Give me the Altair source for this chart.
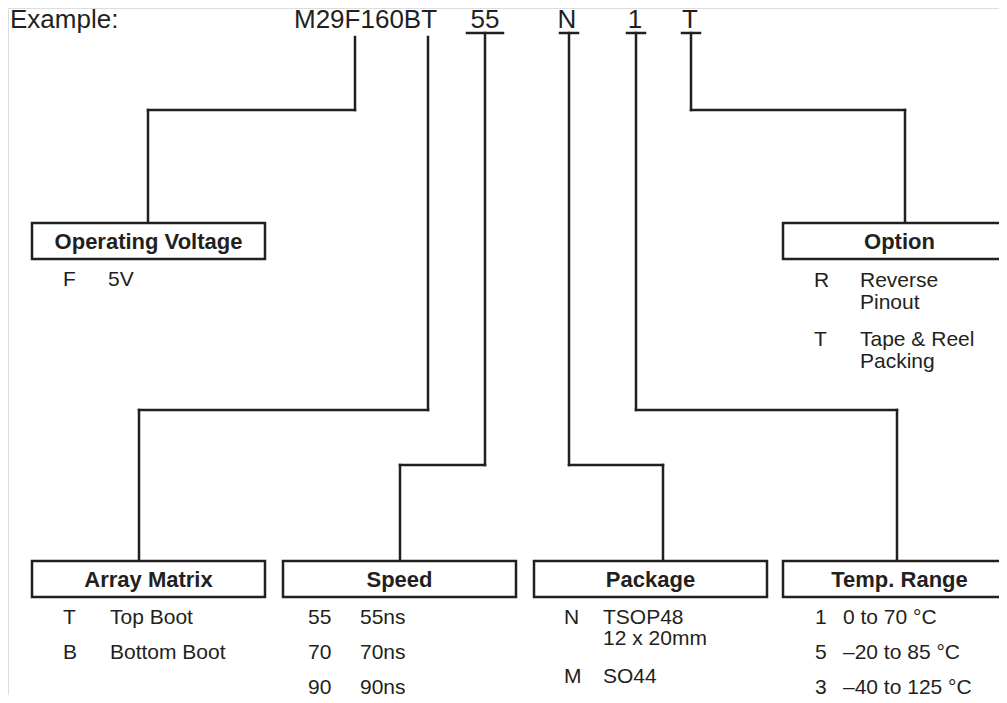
import altair as alt
import pandas as pd

# ---------------- content ----------------
header_label = "Example:"
part_codes = ["M29F160BT", "55", "N", "1", "T"]

titles = ["Operating Voltage", "Option", "Array Matrix", "Speed", "Package", "Temp. Range"]

voltage_codes = ["F"]
voltage_desc = [["5V"]]
option_codes = ["R", "T"]
option_desc = [["Reverse", "Pinout"], ["Tape & Reel", "Packing"]]
matrix_codes = ["T", "B"]
matrix_desc = [["Top Boot"], ["Bottom Boot"]]
speed_codes = ["55", "70", "90"]
speed_desc = [["55ns"], ["70ns"], ["90ns"]]
package_codes = ["N", "M"]
package_desc = [["TSOP48", "12 x 20mm"], ["SO44"]]
temp_codes = ["1", "5", "3"]
temp_desc = [["0 to 70 °C"], ["–20 to 85 °C"], ["–40 to 125 °C"]]

# ---------------- layout (page pixel coordinates) ----------------
INK = "#231f20"
FONT = "Liberation Sans"
LW = 2.5

header_x = [294, 485, 567, 635, 690]
header_align = ["left", "center", "center", "center", "center"]
header_y = 28

box_left = [32, 783, 32, 283, 534, 783]
box_top = [223, 223, 561, 561, 561, 561]
box_w, box_h = 233, 36

sections = [
    # codes, descriptions, code_x, desc_x, row baselines, wrap gap
    (voltage_codes, voltage_desc, 63, 108, [286], 22),
    (option_codes, option_desc, 814, 860, [287, 346], 22),
    (matrix_codes, matrix_desc, 63, 110, [624, 659], 21),
    (speed_codes, speed_desc, 308, 360, [624, 659, 694], 21),
    (package_codes, package_desc, 564, 603, [624, 683], 21),
    (temp_codes, temp_desc, 815, 843, [624, 659, 694], 21),
]

stem_x = [355, 428, 485, 569, 636, 691]
stem_top = [37, 37, 33, 33, 33, 33]
elbow_y = [110, 410, 465, 465, 410, 110]
drop_x = [148, 139, 400, 663, 897, 905]
drop_end = [223, 561, 561, 561, 561, 223]
ticks = [(467, 503), (560, 578), (627, 645), (682, 700)]
tick_y = 33

# ---------------- tables ----------------
hdr = pd.DataFrame(
    [{"x": 10, "y": header_y, "t": header_label, "a": "left"}]
    + [{"x": x, "y": header_y, "t": t, "a": a} for t, x, a in zip(part_codes, header_x, header_align)]
)

boxes = pd.DataFrame({
    "x": box_left, "x2": [b + box_w for b in box_left],
    "y": box_top, "y2": [t + box_h for t in box_top],
})
title_df = pd.DataFrame({
    "x": [b + box_w / 2 for b in box_left],
    "y": [t + 26 for t in box_top],
    "t": titles,
})

items = []
for codes, descs, cx, dx, rows, gap in sections:
    for code, desc, ry in zip(codes, descs, rows):
        items.append({"x": cx, "y": ry, "t": code})
        for k, line in enumerate(desc):
            items.append({"x": dx, "y": ry + k * gap, "t": line})
items_df = pd.DataFrame(items)

segs = []
for sx, st, ey, dxp, de in zip(stem_x, stem_top, elbow_y, drop_x, drop_end):
    segs.append({"x": sx, "x2": sx, "y": st, "y2": ey})
    segs.append({"x": min(sx, dxp), "x2": max(sx, dxp), "y": ey, "y2": ey})
    segs.append({"x": dxp, "x2": dxp, "y": ey, "y2": de})
for a, b in ticks:
    segs.append({"x": a, "x2": b, "y": tick_y, "y2": tick_y})
segs_df = pd.DataFrame(segs)

# ---------------- chart ----------------
W, H = 991, 687
xs = alt.Scale(domain=[8, 8 + W], nice=False, zero=False)
ys = alt.Scale(domain=[8, 8 + H], nice=False, zero=False, reverse=True)


def X(f):
    return alt.X(f, type="quantitative", scale=xs, axis=None)


def Y(f):
    return alt.Y(f, type="quantitative", scale=ys, axis=None)


lines = alt.Chart(segs_df).mark_rule(color=INK, strokeWidth=LW, strokeCap="square").encode(
    x=X("x"), x2="x2", y=Y("y"), y2="y2")

rects = alt.Chart(boxes).mark_rect(fill="white", stroke=INK, strokeWidth=LW, clip=True).encode(
    x=X("x"), x2="x2", y=Y("y"), y2="y2")

hdr_left = alt.Chart(hdr[hdr.a == "left"]).mark_text(
    font=FONT, fontSize=26, color=INK, baseline="alphabetic", align="left").encode(
    x=X("x"), y=Y("y"), text="t:N")
hdr_center = alt.Chart(hdr[hdr.a == "center"]).mark_text(
    font=FONT, fontSize=26, color=INK, baseline="alphabetic", align="center").encode(
    x=X("x"), y=Y("y"), text="t:N")

title_text = alt.Chart(title_df).mark_text(
    font=FONT, fontSize=22, fontWeight="bold", color=INK, baseline="alphabetic", align="center").encode(
    x=X("x"), y=Y("y"), text="t:N")

item_text = alt.Chart(items_df).mark_text(
    font=FONT, fontSize=21, color=INK, baseline="alphabetic", align="left").encode(
    x=X("x"), y=Y("y"), text="t:N")

chart = alt.layer(lines, rects, hdr_left, hdr_center, title_text, item_text).properties(
    width=W, height=H, padding=0, autosize=alt.AutoSizeParams(type="none")
).configure_view(strokeWidth=0, strokeOpacity=0, fillOpacity=0).configure(background="transparent")

chart.save("out.html", embed_options={"renderer": "svg", "actions": False})
